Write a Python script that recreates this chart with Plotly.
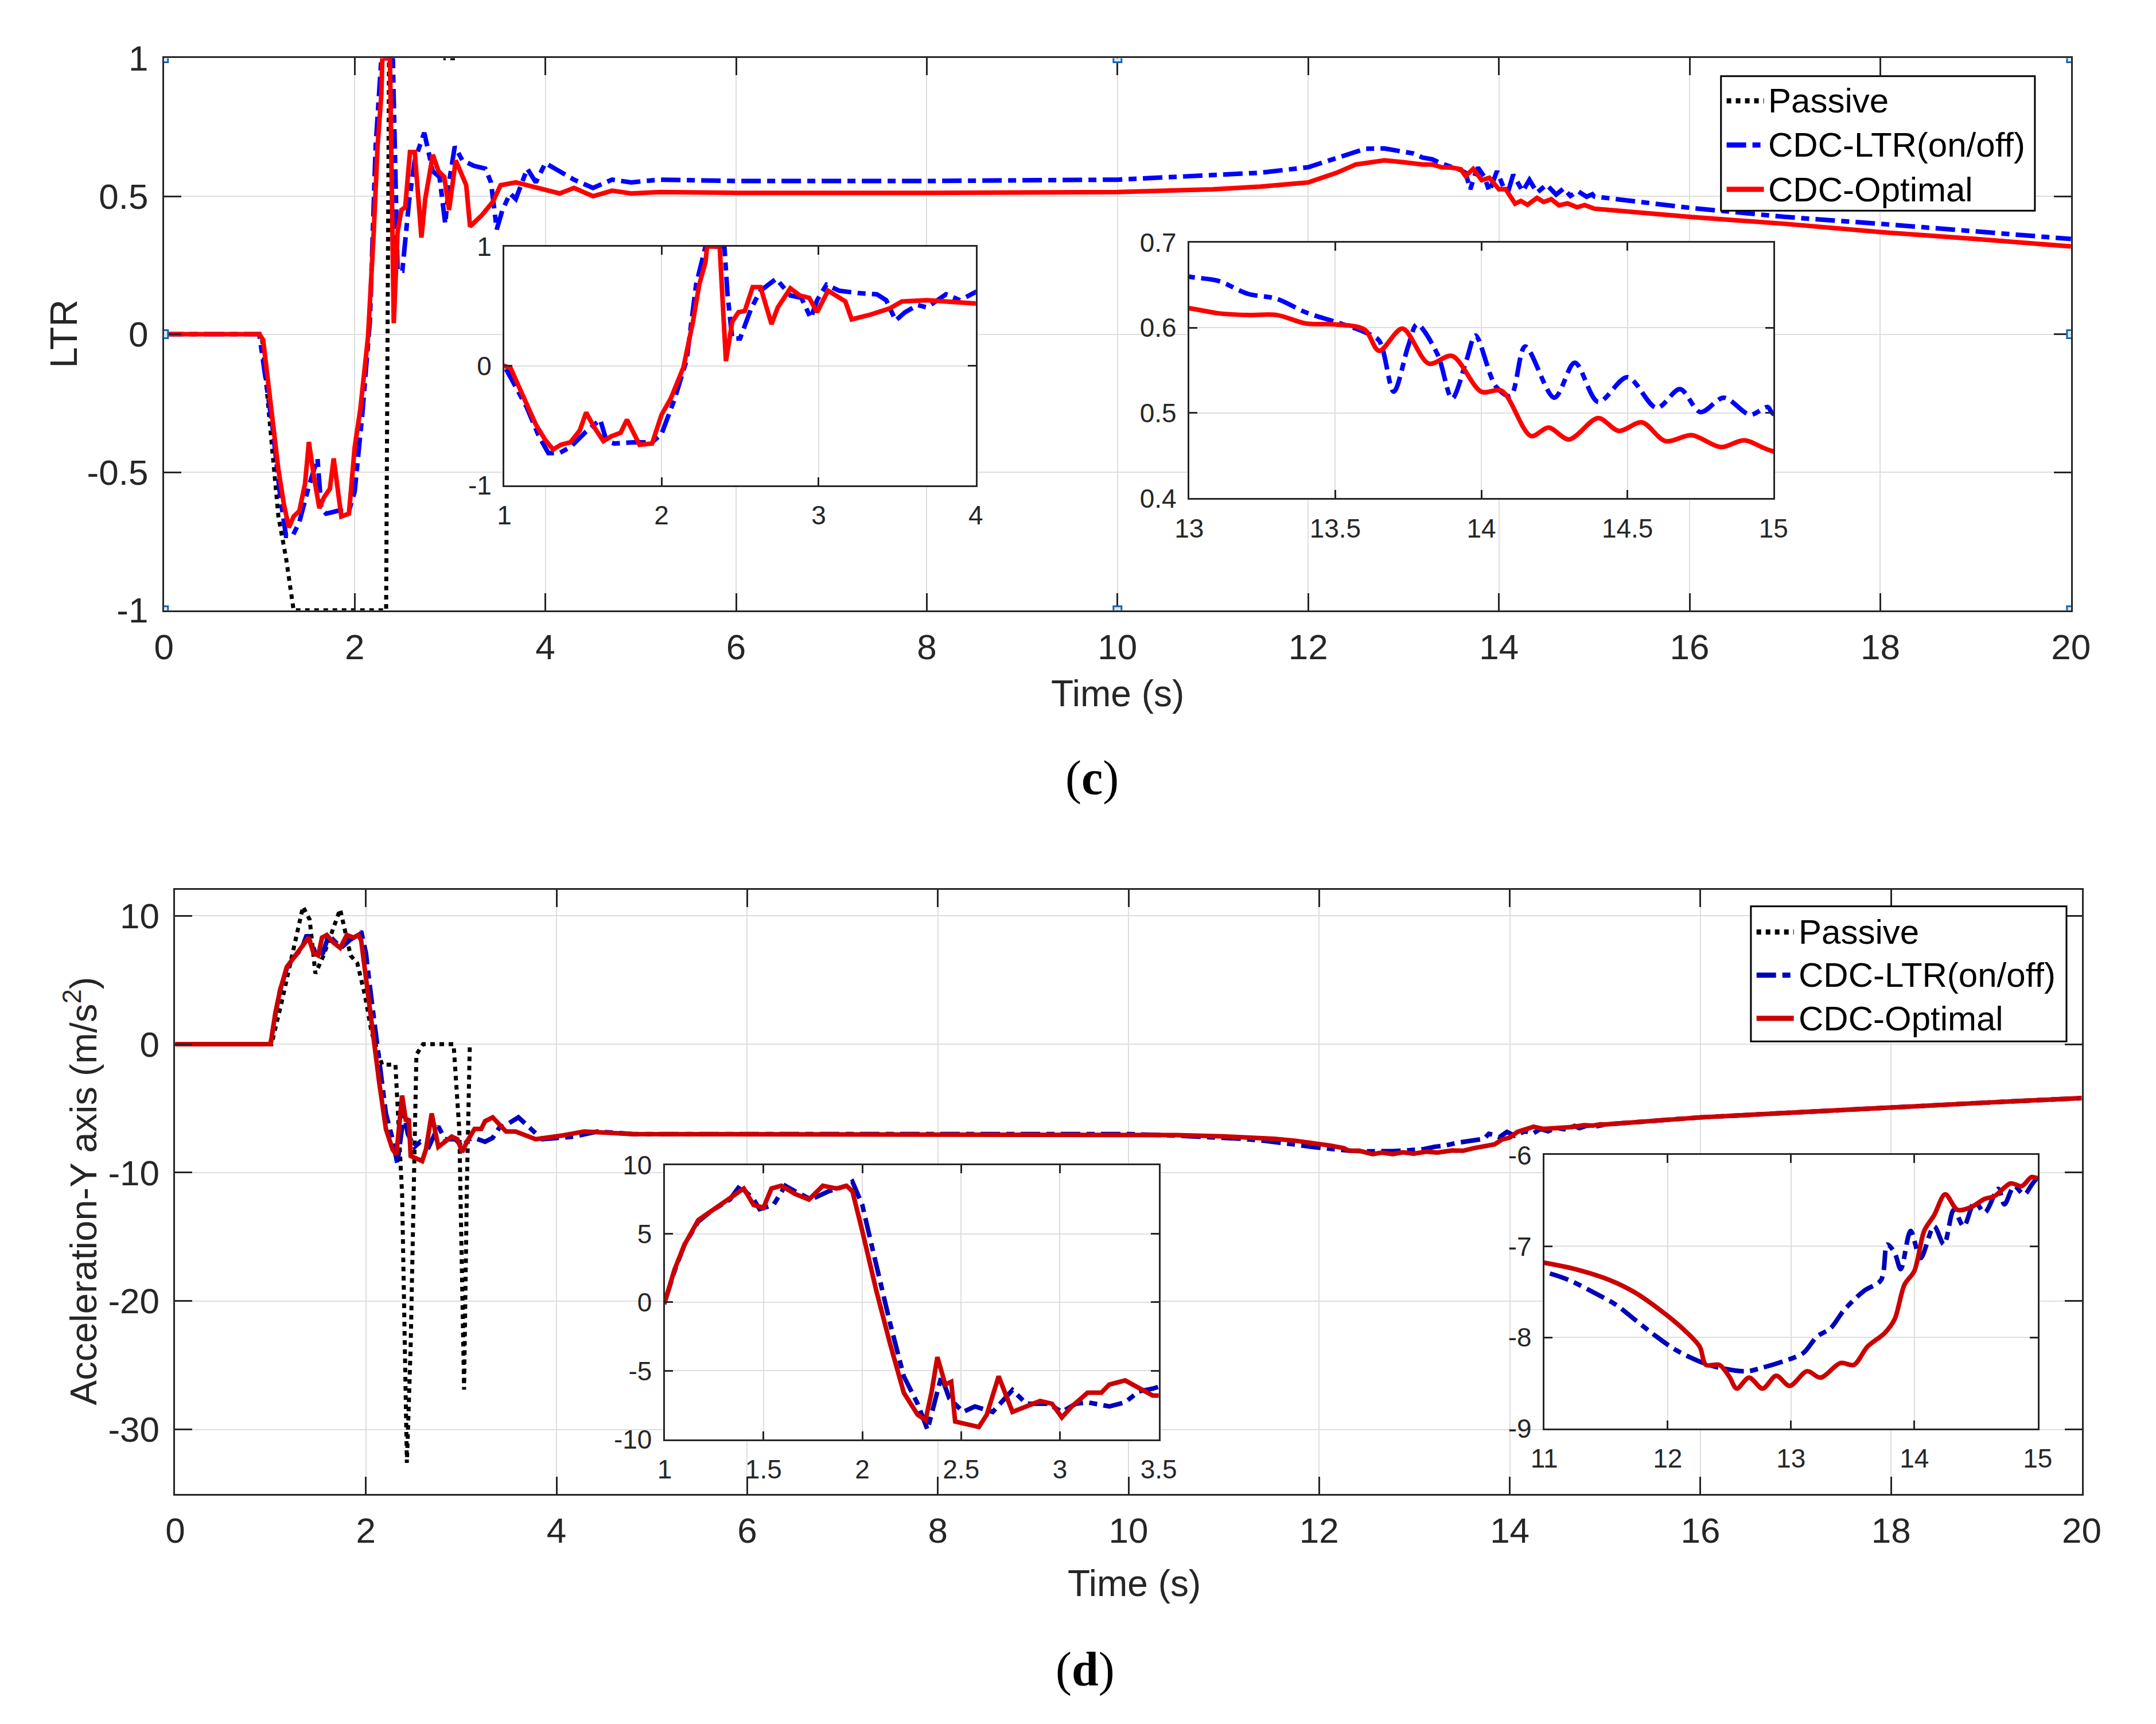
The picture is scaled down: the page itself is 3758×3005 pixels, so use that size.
import plotly.graph_objects as go

W, H = 3758, 3005

# ---------------- (c) LTR ----------------
ltr_passive_t = [0.0, 1.0, 1.03, 1.13, 1.2, 1.28, 1.36, 2.33, 2.36, 2.42, 2.46, 2.92, 2.95, 3.06]
ltr_passive = [0.0, 0.0, -0.02, -0.415, -0.66, -0.81, -1.0, -1.0, 1.0, 1.0, 1.1, 1.1, 1.0, 1.0]

ltr_onoff_t = [0.0, 1.0, 1.14, 1.22, 1.28, 1.35, 1.42, 1.52, 1.61, 1.65,
               1.70, 1.82, 1.94, 2.0, 2.08, 2.16, 2.22, 2.28, 2.40, 2.42,
               2.45, 2.50, 2.57, 2.63, 2.73, 2.82, 2.89, 2.95, 2.99, 3.05,
               3.13, 3.25, 3.37, 3.43, 3.49, 3.55, 3.63, 3.69, 3.81, 3.90,
               4.0, 4.1, 4.3, 4.5, 4.7, 4.9, 5.2, 6.0, 8.0, 10.0,
               11.0, 11.5, 12.0, 12.3, 12.6, 12.8,
               13.0, 13.1, 13.2, 13.3, 13.4, 13.5, 13.6, 13.65, 13.7, 13.75,
               13.78, 13.85, 13.9, 13.95, 13.98, 14.05, 14.1, 14.15, 14.25, 14.32,
               14.4, 14.5, 14.6, 14.68, 14.75, 14.83, 14.92, 14.98, 15.0,
               16.0, 17.0, 18.0, 19.0, 20.0]
ltr_onoff = [0.0, 0.0, -0.34, -0.59, -0.73, -0.73, -0.68, -0.55, -0.45, -0.63,
             -0.65, -0.64, -0.64, -0.57, -0.29, 0.05, 0.68, 1.0, 1.0, 0.6,
             0.23, 0.23, 0.48, 0.63, 0.73, 0.59, 0.57, 0.40, 0.55, 0.68,
             0.63, 0.61, 0.60, 0.55, 0.38, 0.45, 0.51, 0.49, 0.60, 0.55,
             0.62, 0.60, 0.56, 0.53, 0.56, 0.55, 0.56, 0.555, 0.555, 0.56,
             0.575, 0.585, 0.605, 0.64, 0.672, 0.673,
             0.660, 0.655, 0.640, 0.634, 0.618, 0.607, 0.595, 0.585, 0.525, 0.579,
             0.604, 0.569, 0.517, 0.563, 0.591, 0.531, 0.52, 0.578, 0.518, 0.559,
             0.513, 0.542, 0.506, 0.528, 0.501, 0.518, 0.498, 0.507, 0.499,
             0.458, 0.425, 0.40, 0.372, 0.345]

ltr_opt_t = [0.0, 1.0, 1.04, 1.12, 1.2, 1.26, 1.31, 1.36, 1.42, 1.48,
             1.52, 1.57, 1.63, 1.68, 1.74, 1.78, 1.86, 1.94, 2.0, 2.06,
             2.14, 2.2, 2.24, 2.28, 2.29, 2.37, 2.41, 2.45, 2.49, 2.53,
             2.58, 2.63, 2.70, 2.74, 2.82, 2.88, 2.94, 2.99, 3.06, 3.17,
             3.21, 3.33, 3.45, 3.53, 3.69, 3.81, 3.93, 4.0, 4.15, 4.3,
             4.5, 4.7, 4.9, 5.2, 6.0, 8.0, 10.0, 11.0, 11.5, 12.0,
             12.3, 12.5, 12.8,
             13.0, 13.1, 13.2, 13.3, 13.4, 13.5, 13.6, 13.65, 13.73, 13.82,
             13.9, 14.0, 14.07, 14.17, 14.23, 14.3, 14.4, 14.47, 14.55, 14.63,
             14.72, 14.82, 14.9, 15.0,
             16.0, 17.0, 18.0, 19.0, 20.0]
ltr_opt = [0.0, 0.0, -0.02, -0.26, -0.49, -0.62, -0.70, -0.66, -0.64, -0.54,
           -0.39, -0.51, -0.63, -0.59, -0.56, -0.45, -0.66, -0.65, -0.41, -0.27,
           -0.01, 0.37, 0.68, 0.87, 1.0, 1.0, 0.04, 0.37, 0.45, 0.46,
           0.66, 0.66, 0.35, 0.49, 0.65, 0.59, 0.57, 0.45, 0.63, 0.54,
           0.39, 0.43, 0.48, 0.54, 0.55, 0.54, 0.53, 0.52, 0.51, 0.53,
           0.50, 0.52, 0.51, 0.515, 0.512, 0.512, 0.515, 0.525, 0.535, 0.55,
           0.585, 0.615, 0.63,
           0.623, 0.617, 0.615, 0.615, 0.605, 0.604, 0.598, 0.573, 0.599, 0.558,
           0.567, 0.525, 0.526, 0.473, 0.483, 0.469, 0.494, 0.479, 0.489, 0.467,
           0.474, 0.460, 0.468, 0.455,
           0.425, 0.40, 0.37, 0.345, 0.318]

# ---------------- (d) lateral acceleration ----------------
acc_passive_t = [0.0, 1.01, 1.12, 1.23, 1.34, 1.41, 1.47, 1.55, 1.73, 1.84,
                 1.91, 1.99, 2.06, 2.17, 2.31, 2.38, 2.43, 2.47, 2.53, 2.60,
                 2.92, 2.98, 3.03, 3.06, 3.09]
acc_passive = [0.0, 0.0, 3.4, 6.9, 10.7, 9.7, 5.5, 6.8, 10.5, 6.9,
               6.3, 3.8, 0.9, -1.6, -1.6, -11.7, -32.6, -23.4, -0.8, 0.0,
               0.0, -6.7, -26.9, -10.8, 0.0]

acc_onoff_t = [0.0, 1.0, 1.05, 1.10, 1.17, 1.24, 1.33, 1.38, 1.45, 1.48,
               1.55, 1.61, 1.66, 1.74, 1.83, 1.92, 1.95, 2.00, 2.05, 2.14,
               2.21, 2.28, 2.33, 2.37, 2.40, 2.44, 2.51, 2.57, 2.66, 2.76,
               2.83, 2.94, 3.01, 3.08, 3.14, 3.25, 3.33, 3.40, 3.47, 3.6,
               3.85, 4.18, 4.43, 4.8, 6.0, 8.0, 10.0, 10.5,
               11.0, 11.2, 11.42, 11.58, 11.74, 11.91, 12.07, 12.29, 12.45, 12.64,
               12.77, 12.94, 13.10, 13.21, 13.32, 13.43, 13.59, 13.73, 13.78, 13.84,
               13.89, 13.97, 14.05, 14.16, 14.24, 14.32, 14.40, 14.49, 14.57, 14.68,
               14.73, 14.81, 14.89, 15.0,
               16.0, 17.0, 18.0, 19.0, 20.0]
acc_onoff = [0.0, 0.0, 2.3, 4.2, 5.9, 6.7, 7.5, 8.5, 7.5, 6.8,
             7.1, 8.5, 8.1, 7.5, 8.1, 8.5, 8.8, 7.1, 4.0, -1.5,
             -5.4, -7.4, -9.3, -7.0, -5.4, -7.0, -8.0, -7.6, -8.0, -6.4,
             -7.4, -7.4, -8.0, -7.4, -7.3, -7.6, -7.3, -6.5, -6.3, -5.7,
             -7.4, -7.2, -6.8, -7.0, -7.0, -7.0, -7.0, -7.12,
             -7.28, -7.37, -7.52, -7.64, -7.81, -7.99, -8.14, -8.28, -8.34, -8.37,
             -8.33, -8.26, -8.17, -7.99, -7.90, -7.70, -7.49, -7.37, -6.98, -7.07,
             -7.25, -6.83, -7.13, -6.78, -6.98, -6.60, -6.78, -6.51, -6.63, -6.37,
             -6.54, -6.34, -6.43, -6.25,
             -5.7, -5.3, -4.9, -4.55, -4.2]

acc_opt_t = [0.0, 1.0, 1.05, 1.10, 1.17, 1.24, 1.33, 1.40, 1.45, 1.50,
             1.54, 1.59, 1.66, 1.73, 1.80, 1.87, 1.92, 1.95, 2.00, 2.07,
             2.14, 2.21, 2.28, 2.32, 2.35, 2.38, 2.42, 2.45, 2.47, 2.54,
             2.59, 2.63, 2.69, 2.76, 2.83, 2.90, 2.96, 3.01, 3.06, 3.14,
             3.21, 3.25, 3.33, 3.39, 3.47, 3.57, 3.78, 4.07, 4.29, 4.8,
             6.0, 8.0, 10.0, 10.5,
             11.0, 11.25, 11.53, 11.74, 11.96, 12.12, 12.26, 12.31, 12.42, 12.50,
             12.56, 12.66, 12.77, 12.88, 12.99, 13.13, 13.24, 13.40, 13.51, 13.62,
             13.76, 13.84, 13.92, 14.00, 14.08, 14.16, 14.25, 14.35, 14.46, 14.57,
             14.65, 14.78, 14.87, 14.95, 15.0,
             16.0, 17.0, 18.0, 19.0, 20.0]
acc_opt = [0.0, 0.0, 2.4, 4.2, 6.0, 6.7, 7.5, 8.3, 7.1, 6.9,
           8.3, 8.5, 7.9, 7.5, 8.5, 8.3, 8.5, 8.1, 5.2, 0.9,
           -3.0, -6.6, -8.2, -8.6, -6.6, -4.0, -6.0, -5.8, -8.7, -8.9,
           -9.1, -8.2, -5.4, -8.0, -7.6, -7.2, -7.4, -8.4, -7.6, -6.6,
           -6.6, -6.0, -5.7, -6.2, -6.8, -6.8, -7.4, -7.1, -6.8, -7.0,
           -7.0, -7.0, -7.0, -7.08,
           -7.18, -7.25, -7.37, -7.51, -7.72, -7.90, -8.10, -8.30, -8.30, -8.43,
           -8.56, -8.44, -8.56, -8.42, -8.53, -8.37, -8.44, -8.28, -8.30, -8.10,
           -7.95, -7.80, -7.42, -7.27, -6.83, -6.66, -6.43, -6.60, -6.57, -6.48,
           -6.45, -6.31, -6.34, -6.24, -6.25,
           -5.7, -5.3, -4.9, -4.55, -4.2]

series_names = ["Passive", "CDC-LTR(on/off)", "CDC-Optimal"]

# tick labels (MATLAB style, ascii minus)
time_ticks = [0, 2, 4, 6, 8, 10, 12, 14, 16, 18, 20]
ltr_ticks = [-1, -0.5, 0, 0.5, 1]
ltr_tick_text = ["-1", "-0.5", "0", "0.5", "1"]
ltr_in1_xticks = [1, 2, 3, 4]
ltr_in1_yticks = [-1, 0, 1]
ltr_in1_ytext = ["-1", "0", "1"]
ltr_in2_xticks = [13, 13.5, 14, 14.5, 15]
ltr_in2_yticks = [0.4, 0.5, 0.6, 0.7]
acc_ticks = [-30, -20, -10, 0, 10]
acc_tick_text = ["-30", "-20", "-10", "0", "10"]
acc_in1_xticks = [1, 1.5, 2, 2.5, 3, 3.5]
acc_in1_yticks = [-10, -5, 0, 5, 10]
acc_in1_ytext = ["-10", "-5", "0", "5", "10"]
acc_in2_xticks = [11, 12, 13, 14, 15]
acc_in2_yticks = [-9, -8, -7, -6]
acc_in2_ytext = ["-9", "-8", "-7", "-6"]

FONT = "Liberation Sans"
TXT = "#262626"
GRID = "#DEDEDE"

TOP_COLORS = ["black", "#0000FF", "#FF0000"]
BOT_COLORS = ["black", "#0000B8", "#CC0000"]
DASH_PASSIVE = "8px,8px"
DASH_ONOFF = "34px,11px,14px,11px"
LW = 8


def fx(p):
    return p / W


def fy(p):
    return 1 - p / H


fig = go.Figure()


def add_lines(xa, ya, colors, data, with_passive, shape="linear"):
    (pt, pv), (bt, bv), (rt, rv) = data
    if with_passive:
        fig.add_trace(go.Scatter(x=pt, y=pv, mode="lines", xaxis=xa, yaxis=ya,
                                 line=dict(color=colors[0], width=7, dash=DASH_PASSIVE),
                                 name=series_names[0], showlegend=False))
    fig.add_trace(go.Scatter(x=bt, y=bv, mode="lines", xaxis=xa, yaxis=ya,
                             line=dict(color=colors[1], width=LW, dash=DASH_ONOFF,
                                       shape=shape, smoothing=0.9),
                             name=series_names[1], showlegend=False))
    fig.add_trace(go.Scatter(x=rt, y=rv, mode="lines", xaxis=xa, yaxis=ya,
                             line=dict(color=colors[2], width=LW, shape=shape, smoothing=0.9),
                             name=series_names[2], showlegend=False))


ltr_data = [(ltr_passive_t, ltr_passive), (ltr_onoff_t, ltr_onoff), (ltr_opt_t, ltr_opt)]
acc_data = [(acc_passive_t, acc_passive), (acc_onoff_t, acc_onoff), (acc_opt_t, acc_opt)]

add_lines("x", "y", TOP_COLORS, ltr_data, True)
add_lines("x2", "y2", TOP_COLORS, ltr_data, False)
add_lines("x3", "y3", TOP_COLORS, ltr_data, False, "spline")
add_lines("x4", "y4", BOT_COLORS, acc_data, True)
add_lines("x5", "y5", BOT_COLORS, acc_data, False)
add_lines("x6", "y6", BOT_COLORS, acc_data, False, "spline")


def axis(dom, rng, vals, text, anchor, size, ticklen, standoff):
    return dict(domain=dom, range=rng, anchor=anchor, tickmode="array",
                tickvals=vals, ticktext=text,
                tickfont=dict(family=FONT, size=size, color=TXT),
                ticks="inside", ticklen=ticklen, tickwidth=3, tickcolor=TXT,
                showline=True, linecolor=TXT, linewidth=3, mirror="ticks",
                showgrid=True, gridcolor=GRID, gridwidth=2, zeroline=False,
                ticklabelstandoff=standoff, fixedrange=True)


# panel geometry in pixels: (left, right, top, bottom)
boxes = {
    "1": (264, 3642, 69, 1054),
    "2": (867, 1702, 405, 831),
    "3": (2080, 3115, 398, 854),
    "4": (284, 3661, 1553, 2630),
    "5": (1151, 2026, 2044, 2533),
    "6": (2709, 3583, 2026, 2514),
}


def doms(k):
    l, r, t, b = boxes[k]
    return [fx(l), fx(r)], [fy(b), fy(t)]


tt = [str(v) for v in time_ticks]
specs = [
    ("", [0, 20], time_ticks, tt, [-1, 1], ltr_ticks, ltr_tick_text, 62, 30, "1"),
    ("2", [1, 4], ltr_in1_xticks, [str(v) for v in ltr_in1_xticks], [-1, 1], ltr_in1_yticks, ltr_in1_ytext, 46, 14, "2"),
    ("3", [13, 15], ltr_in2_xticks, [str(v) for v in ltr_in2_xticks], [0.4, 0.7], ltr_in2_yticks, [str(v) for v in ltr_in2_yticks], 46, 14, "3"),
    ("4", [0, 20], time_ticks, tt, [-35, 12], acc_ticks, acc_tick_text, 62, 30, "4"),
    ("5", [1, 3.5], acc_in1_xticks, [str(v) for v in acc_in1_xticks], [-10, 10], acc_in1_yticks, acc_in1_ytext, 46, 14, "5"),
    ("6", [11, 15], acc_in2_xticks, [str(v) for v in acc_in2_xticks], [-9, -6], acc_in2_yticks, acc_in2_ytext, 46, 14, "6"),
]

layout_axes = {}
for sfx, xr, xv, xt, yr, yv, yt, fs, tl, k in specs:
    xd, yd = doms(k)
    main = fs == 62
    layout_axes["xaxis" + sfx] = axis(xd, xr, xv, xt, "y" + sfx, fs, tl, 8 if main else 10)
    layout_axes["yaxis" + sfx] = axis(yd, yr, yv, yt, "x" + sfx, fs, tl, 12 if main else 10)

shapes = []
# white background for the insets (drawn beneath inset traces, above main traces)
for sfx, xr, yr in [("2", [1, 4], [-1, 1]), ("3", [13, 15], [0.4, 0.7]),
                    ("5", [1, 3.5], [-10, 10]), ("6", [11, 15], [-9, -6])]:
    shapes.append(dict(type="rect", xref="x" + sfx, yref="y" + sfx, x0=xr[0], x1=xr[1],
                       y0=yr[0], y1=yr[1], fillcolor="white", line=dict(width=0), layer="below"))

# MATLAB selection handles on panel (c)
for hx, hy in [(0, 1), (10, 1), (20, 1), (0, 0), (20, 0), (0, -1), (10, -1), (20, -1)]:
    shapes.append(dict(type="rect", xref="x", yref="y", xsizemode="pixel", ysizemode="pixel",
                       xanchor=hx, yanchor=hy, x0=-7, x1=7, y0=-7, y1=7,
                       fillcolor="#D8E8F6", line=dict(color="#1565B0", width=3), layer="above"))

annotations = []


def legend(box, rows, colors):
    l, r, t, b = box
    shapes.append(dict(type="rect", xref="paper", yref="paper", x0=fx(l), x1=fx(r),
                       y0=fy(b), y1=fy(t), fillcolor="white",
                       line=dict(color="black", width=3), layer="above"))
    dashes = [DASH_PASSIVE, DASH_ONOFF, "solid"]
    for i, yy in enumerate(rows):
        shapes.append(dict(type="line", xref="paper", yref="paper", x0=fx(l + 10), x1=fx(l + 76),
                           y0=fy(yy), y1=fy(yy), layer="above",
                           line=dict(color=colors[i], width=9, dash=dashes[i])))
        annotations.append(dict(text=series_names[i], xref="paper", yref="paper",
                                x=fx(l + 82), y=fy(yy), xanchor="left", yanchor="middle",
                                showarrow=False, font=dict(family=FONT, size=60, color="black")))


legend((3022, 3578, 101, 341), [145, 224, 303], TOP_COLORS)
legend((3075, 3634, 1582, 1823), [1628, 1705, 1782], BOT_COLORS)


def label(text, x, y, size, angle=0, family=FONT, color=TXT):
    annotations.append(dict(text=text, xref="paper", yref="paper", x=fx(x), y=fy(y),
                            xanchor="center", yanchor="middle", showarrow=False,
                            textangle=angle, font=dict(family=family, size=size, color=color)))


label("LTR", 86, 561, 66, -90)
label("Time (s)", 1953, 1203, 64)
label("(<b>c</b>)", 1908, 1353, 84, family="Liberation Serif", color="black")
label("Acceleration-Y axis (m/s<sup>2</sup>)", 117, 2090, 65, -90)
label("Time (s)", 1983, 2790, 64)
label("(<b>d</b>)", 1896, 2944, 84, family="Liberation Serif", color="black")

fig.update_layout(width=W, height=H, margin=dict(l=0, r=0, t=0, b=0),
                  paper_bgcolor="white", plot_bgcolor="white", showlegend=False,
                  shapes=shapes, annotations=annotations, **layout_axes)

fig.write_html("out.html", config={"displayModeBar": False},
               post_script="document.body.style.margin='0px';"
                           "document.documentElement.style.overflow='hidden';")
